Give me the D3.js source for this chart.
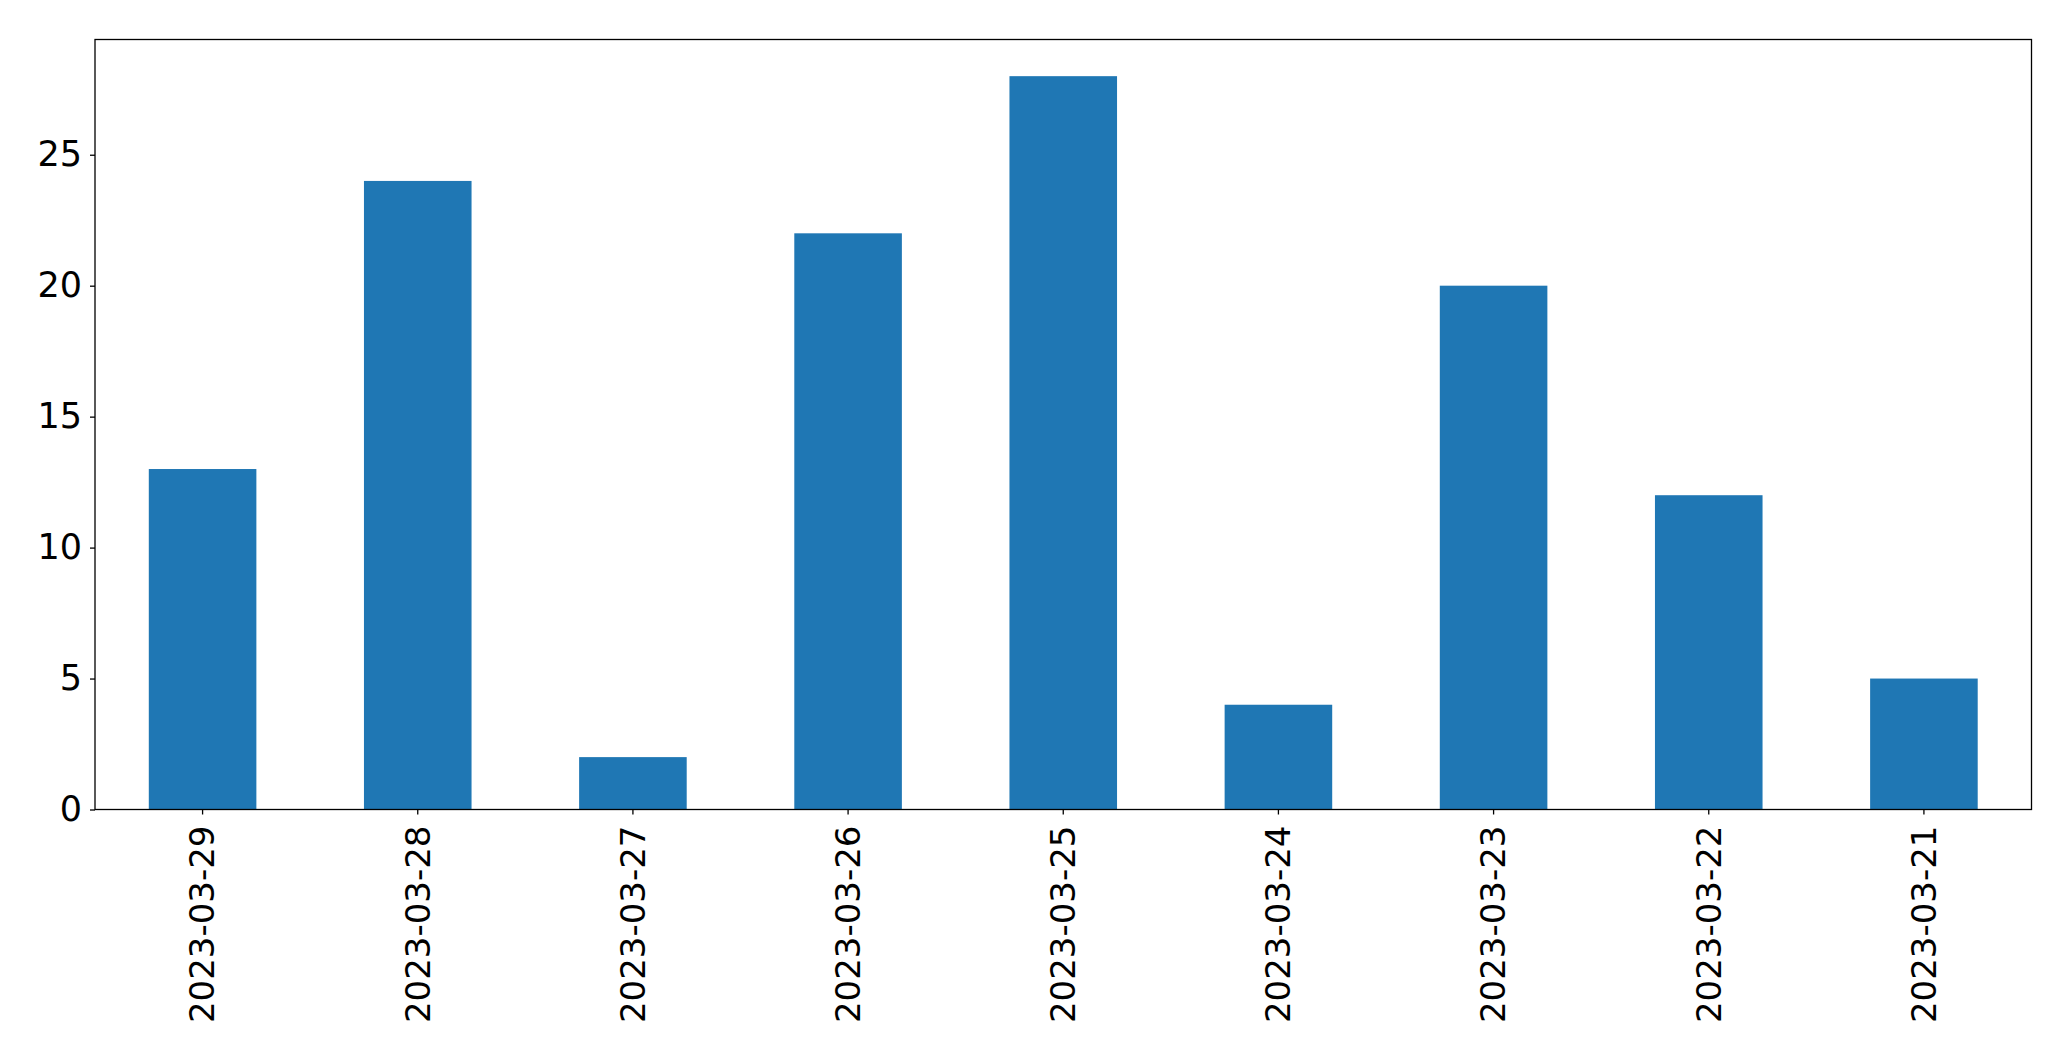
<!DOCTYPE html>
<html>
<head>
<meta charset="utf-8">
<script src="https://cdn.jsdelivr.net/npm/d3@7"></script>
<style>
body { margin: 0; background: #fff; }
svg { display: block; }
</style>
</head>
<body>
<script>
const categories = ["2023-03-29","2023-03-28","2023-03-27","2023-03-26","2023-03-25","2023-03-24","2023-03-23","2023-03-22","2023-03-21"];
const values = [13, 24, 2, 22, 28, 4, 20, 12, 5];
const yTicks = [0, 5, 10, 15, 20, 25];

const W = 2071, H = 1061;
const m = {left: 95, right: 2071 - 2031.5, top: 39.5, bottom: 1061 - 809.5};
const svg = d3.select("body").append("svg").attr("width", W).attr("height", H);
const g = svg.append("g");

const x = d3.scaleBand().domain(categories).range([m.left, W - m.right]).paddingInner(0.5).paddingOuter(0.25);
const y = d3.scaleLinear().domain([0, 28 * 1.05]).range([H - m.bottom, m.top]);

g.selectAll("rect.bar").data(values).enter().append("rect")
  .attr("class", "bar")
  .attr("x", (d, i) => x(categories[i]))
  .attr("width", x.bandwidth())
  .attr("y", d => y(d))
  .attr("height", d => y(0) - y(d))
  .attr("fill", "#1f77b4");

const fontFam = "'DejaVu Sans', sans-serif";
const yAxis = g.append("g").attr("transform", `translate(${m.left},0)`)
  .call(d3.axisLeft(y).tickValues(yTicks).tickSize(5).tickPadding(8).tickSizeOuter(0));
yAxis.select(".domain").remove();
yAxis.selectAll("text").attr("font-size", 35).attr("font-family", fontFam).attr("fill", "#000");
yAxis.selectAll("line").attr("stroke", "#000").attr("stroke-width", 1.3);

const xAxis = g.append("g").attr("transform", `translate(0,${H - m.bottom})`)
  .call(d3.axisBottom(x).tickSize(5).tickPadding(12).tickSizeOuter(0));
xAxis.select(".domain").remove();
xAxis.selectAll("line").attr("stroke", "#000").attr("stroke-width", 1.3);
xAxis.selectAll("text")
  .attr("font-size", 34).attr("font-family", fontFam).attr("fill", "#000")
  .attr("transform", "rotate(-90)")
  .attr("text-anchor", "end")
  .attr("x", -16).attr("y", 0).attr("dy", "0.35em");

g.append("rect").attr("x", m.left).attr("y", m.top)
  .attr("width", W - m.right - m.left).attr("height", H - m.bottom - m.top)
  .attr("fill", "none").attr("stroke", "#000").attr("stroke-width", 1.3);
</script>
</body>
</html>
